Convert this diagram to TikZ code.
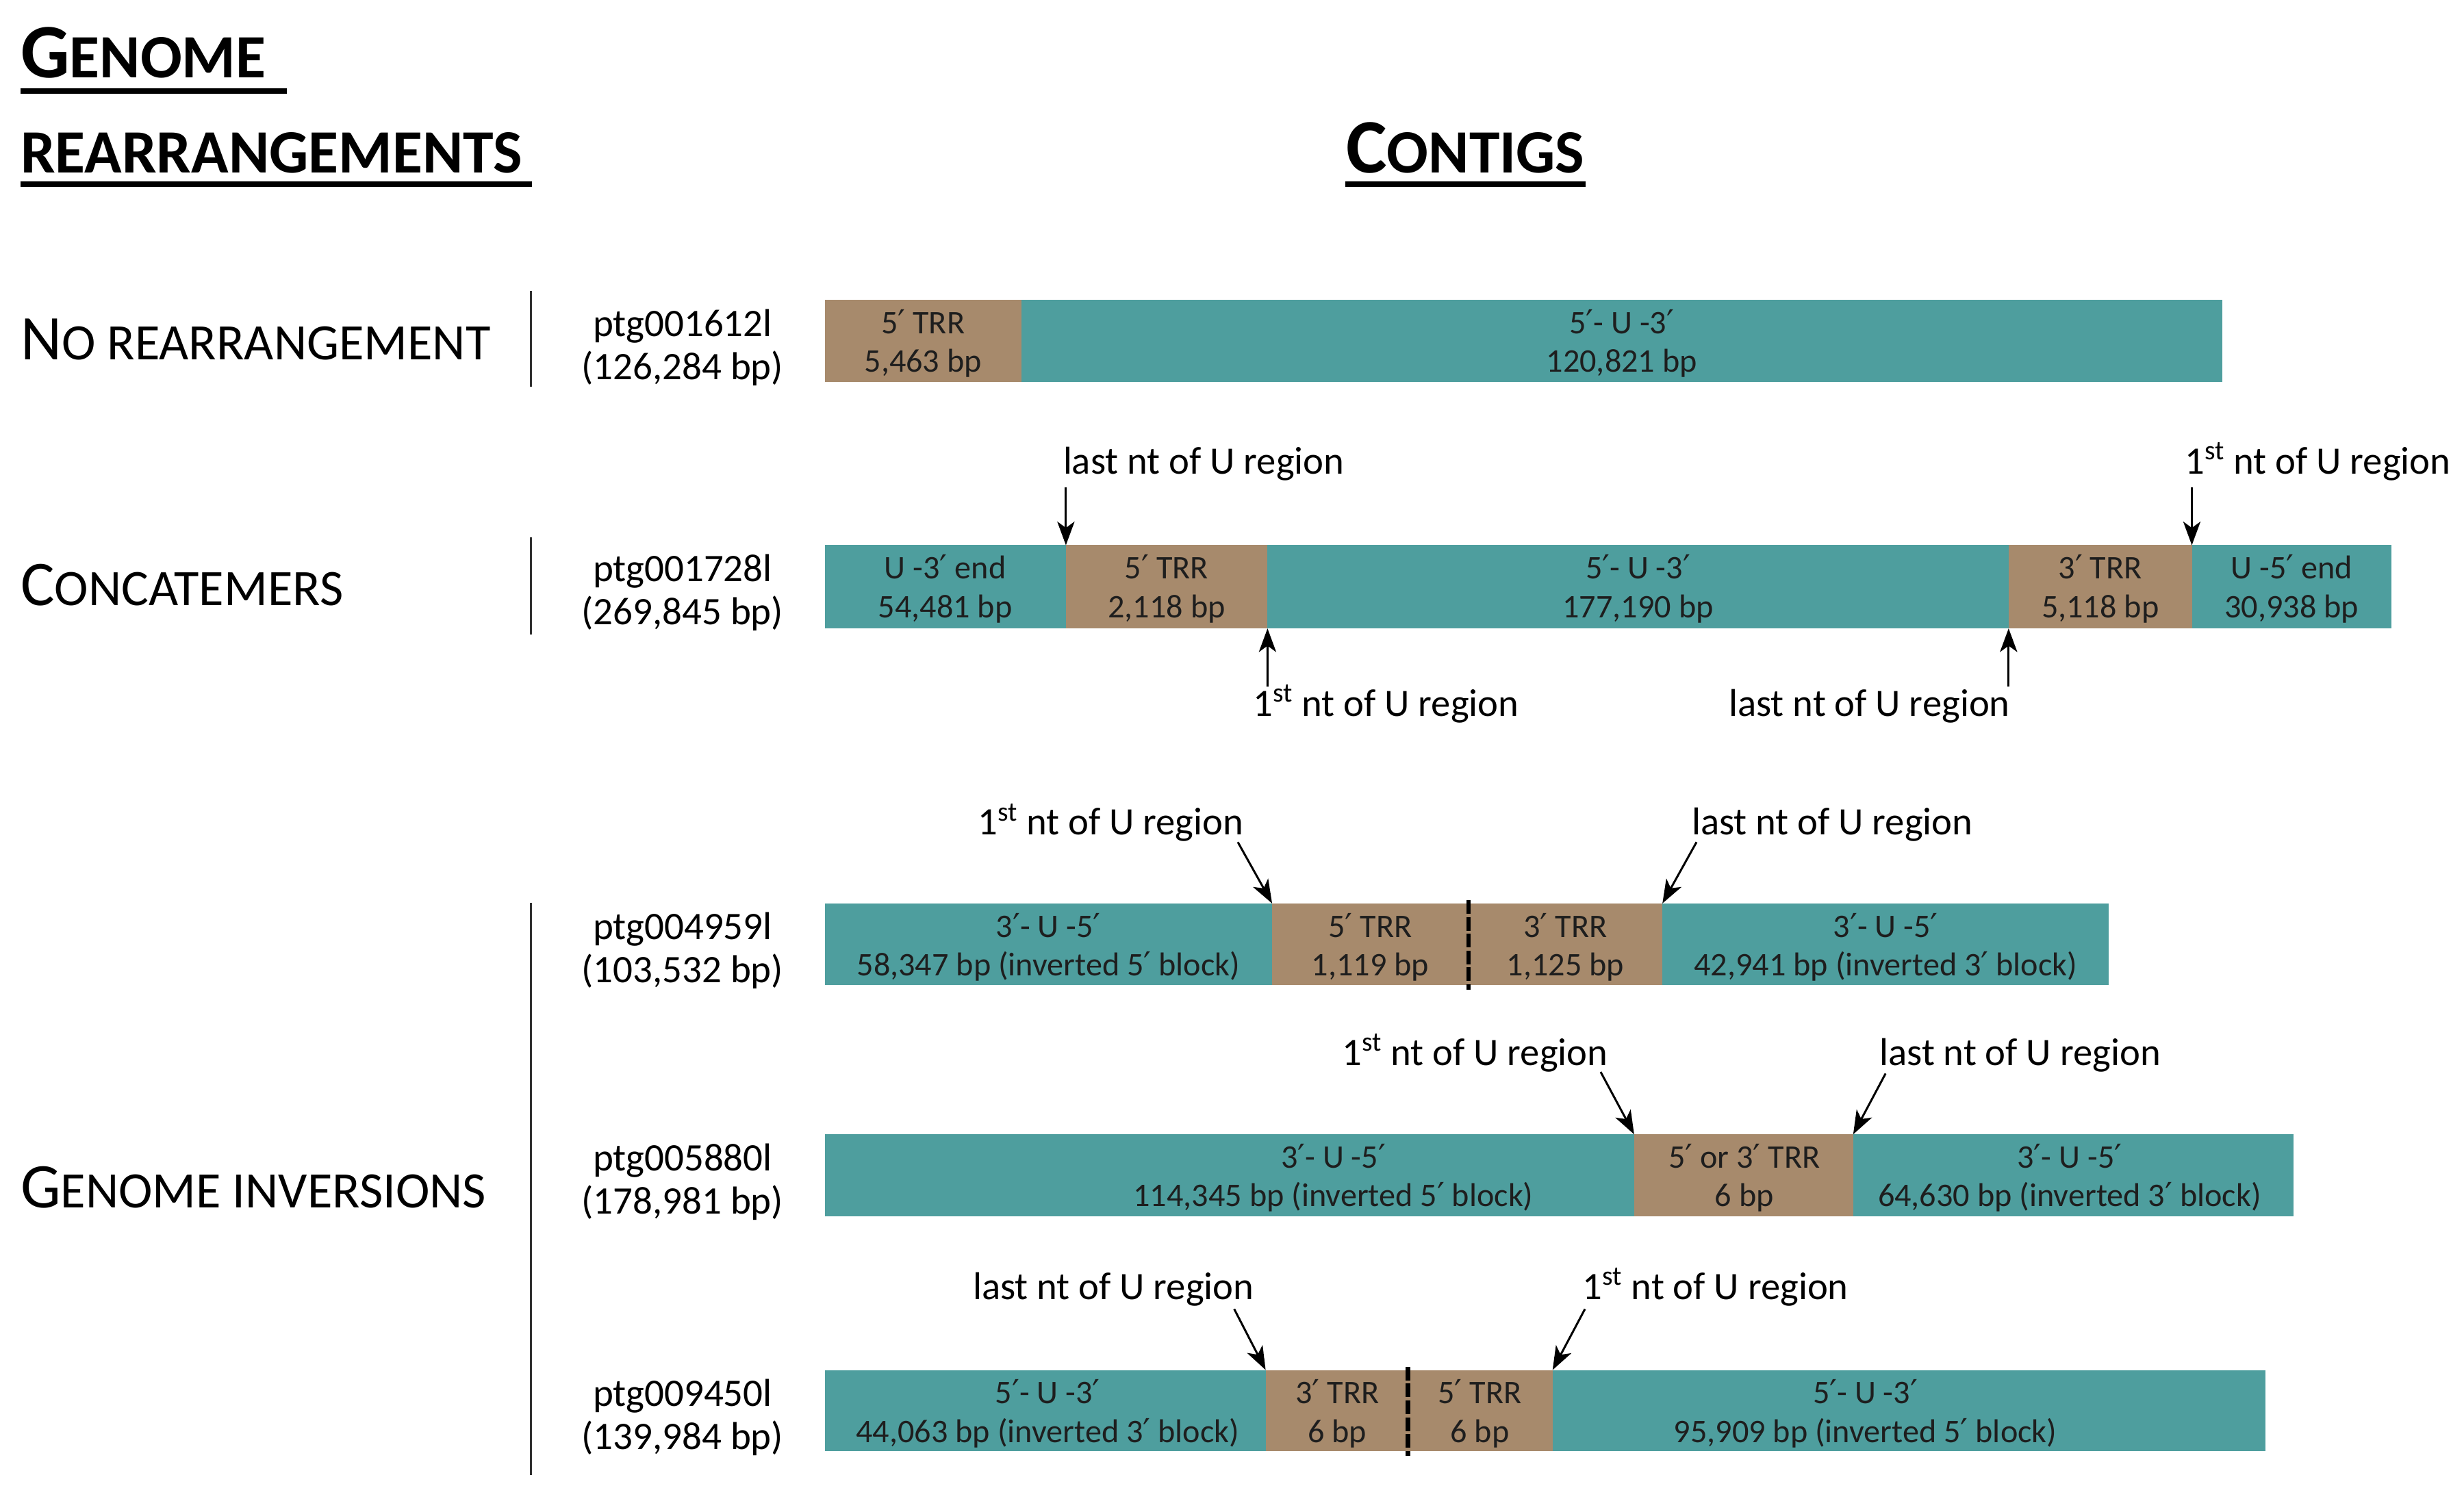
\documentclass[tikz,border=0pt]{standalone}
\usepackage{fontspec}
\setmainfont{Carlito}
\newfontfamily\primefont{DejaVu Sans}[Scale=1.0]
\usetikzlibrary{arrows.meta,fit}
\definecolor{tealc}{HTML}{4E9E9E}
\definecolor{brownc}{HTML}{A78A6C}
\definecolor{txtc}{HTML}{1E1E1E}
\definecolor{sepc}{HTML}{303030}
\newcommand\twol[2]{\begin{tabular}[t]{@{}c@{}}#1\\#2\end{tabular}}
\newcommand\bsc[4]{{\fontsize{#1}{#1}\selectfont #3}{\fontsize{#2}{#2}\selectfont #4}}
\newcommand\fst{1\textsuperscript{st}}
\newcommand\prm{{\primefont ′}}
\begin{document}
\begin{tikzpicture}[x=1pt,y=-1pt,
  seg/.style={inner sep=0pt, outer sep=0pt, draw=none, fill=#1},
  bartxt/.style={inner sep=0pt, anchor=base, text=txtc, font=\fontsize{21}{24.5}\selectfont},
  ptg/.style={inner sep=0pt, anchor=base, font=\fontsize{24.8}{27.5}\selectfont},
  lab/.style={inner sep=0pt, anchor=base, font=\fontsize{24.7}{28}\selectfont},
  head/.style={inner sep=0pt, anchor=base west},
  arr/.style={line width=1.3pt, -{Stealth[length=15pt,width=11pt,inset=4pt]}},
  sepline/.style={line width=1.4pt, draw=sepc},
  dashsep/.style={line width=3pt, draw=black, dash pattern=on 8.7pt off 2pt},
  uline/.style={line width=3.5pt, draw=black}
]
\useasboundingbox (0,0) rectangle (1568,954);

% ---------- headings ----------
\node[head] (h1) at (13,49.4) {\bfseries\bsc{49}{39.2}{G}{ENOME}};
\node[head] (h2) at (13,109.8) {\bfseries\bsc{49}{39.2}{}{REARRANGEMENTS}};
\node[inner sep=0pt, anchor=base] (h3) at (932.5,109.8) {\bfseries\bsc{49}{39.2}{C}{ONTIGS}};
\draw[uline] (13,58) -- (182.6,58);
\draw[uline] (13,117) -- (338.5,117);
\draw[uline] (856,117) -- (1009,117);

% ---------- row labels ----------
\node[head] (l1) at (13,229) {\bsc{40.5}{32.5}{N}{O REARRANGEMENT}};
\node[head] (l2) at (13,385.5) {\bsc{40.5}{32.5}{C}{ONCATEMERS}};
\node[head] (l3) at (13,768.6) {\bsc{40.5}{32.5}{G}{ENOME INVERSIONS}};

\draw[sepline] (337.7,185) -- (337.7,246.3);
\draw[sepline] (337.7,342) -- (337.7,404);
\draw[sepline] (337.7,574.6) -- (337.7,939);

% ---------- contig names ----------
\node[ptg] (p1) at (434.3,214) {\twol{ptg001612l}{(126,284 bp)}};
\node[ptg] (p2) at (434.3,370) {\twol{ptg001728l}{(269,845 bp)}};
\node[ptg] (p3) at (434.3,598) {\twol{ptg004959l}{(103,532 bp)}};
\node[ptg] (p4) at (434.3,745) {\twol{ptg005880l}{(178,981 bp)}};
\node[ptg] (p5) at (434.3,895) {\twol{ptg009450l}{(139,984 bp)}};

% ---------- row 1 ----------
\node[seg=brownc, fit={(524.8,191) (649.9,243)}] (s1a) {};
\node[seg=tealc,  fit={(649.9,191) (1414.3,243)}] (s1b) {};
\node[bartxt] (x1a) at (587.4,212.5) {\twol{5\prm{} TRR}{5,463 bp}};
\node[bartxt] (x1b) at (1032,212.5) {\twol{5\prm- U -3\prm}{120,821 bp}};

% ---------- row 2 ----------
\node[seg=tealc,  fit={(524.8,347) (678.3,400)}] (s2a) {};
\node[seg=brownc, fit={(678.3,347) (806.6,400)}] (s2b) {};
\node[seg=tealc,  fit={(806.6,347) (1278.2,400)}] (s2c) {};
\node[seg=brownc, fit={(1278.2,347) (1394.8,400)}] (s2d) {};
\node[seg=tealc,  fit={(1394.8,347) (1521.8,400)}] (s2e) {};
\node[bartxt] (x2a) at (601.5,368.5) {\twol{U -3\prm{} end}{54,481 bp}};
\node[bartxt] (x2b) at (742.4,368.5) {\twol{5\prm{} TRR}{2,118 bp}};
\node[bartxt] (x2c) at (1042.4,368.5) {\twol{5\prm- U -3\prm}{177,190 bp}};
\node[bartxt] (x2d) at (1336.5,368.5) {\twol{3\prm{} TRR}{5,118 bp}};
\node[bartxt] (x2e) at (1458.3,368.5) {\twol{U -5\prm{} end}{30,938 bp}};

\node[lab] (a2a) at (766,301.6) {last nt of U region};
\node[lab] (a2b) at (882,456) {\fst{} nt of U region};
\node[lab] (a2c) at (1189.6,456) {last nt of U region};
\node[lab] (a2d) at (1475,301.6) {\fst{} nt of U region};
\coordinate (t2a) at (678.3,310.4);
\coordinate (t2b) at (806.6,437);
\coordinate (t2c) at (1278.2,437);
\coordinate (t2d) at (1394.8,310.4);
\draw[arr] (t2a) -- (s2b.north west);
\draw[arr] (t2b) -- (s2b.south east);
\draw[arr] (t2c) -- (s2d.south west);
\draw[arr] (t2d) -- (s2d.north east);

% ---------- row 3 ----------
\node[seg=tealc,  fit={(524.8,575) (809.5,627)}] (s3a) {};
\node[seg=brownc, fit={(809.5,575) (934.5,627)}] (s3b) {};
\node[seg=brownc, fit={(934.5,575) (1057.9,627)}] (s3c) {};
\node[seg=tealc,  fit={(1057.9,575) (1342,627)}] (s3d) {};
\draw[dashsep] ([yshift=2pt]s3b.north east) -- ([yshift=-3pt]s3b.south east);
\node[bartxt] (x3a) at (667.2,596.5) {\twol{3\prm- U -5\prm}{58,347 bp (inverted 5\prm{} block)}};
\node[bartxt] (x3b) at (872,596.5) {\twol{5\prm{} TRR}{1,119 bp}};
\node[bartxt] (x3c) at (996.2,596.5) {\twol{3\prm{} TRR}{1,125 bp}};
\node[bartxt] (x3d) at (1200,596.5) {\twol{3\prm- U -5\prm}{42,941 bp (inverted 3\prm{} block)}};

\node[lab] (a3a) at (706.8,531.5) {\fst{} nt of U region};
\node[lab] (a3b) at (1166,531.5) {last nt of U region};
\coordinate (t3a) at (787.7,536);
\coordinate (t3b) at (1079.6,536);
\draw[arr] (t3a) -- (s3b.north west);
\draw[arr] (t3b) -- (s3c.north east);

% ---------- row 4 ----------
\node[seg=tealc,  fit={(524.8,722) (1039.9,774)}] (s4a) {};
\node[seg=brownc, fit={(1039.9,722) (1179.3,774)}] (s4b) {};
\node[seg=tealc,  fit={(1179.3,722) (1459.3,774)}] (s4c) {};
\node[bartxt] (x4a) at (848.5,743.5) {\twol{3\prm- U -5\prm}{114,345 bp (inverted 5\prm{} block)}};
\node[bartxt] (x4b) at (1110,743.5) {\twol{5\prm{} or 3\prm{} TRR}{6 bp}};
\node[bartxt] (x4c) at (1317,743.5) {\twol{3\prm- U -5\prm}{64,630 bp (inverted 3\prm{} block)}};

\node[lab] (a4a) at (938.6,678) {\fst{} nt of U region};
\node[lab] (a4b) at (1285.5,678) {last nt of U region};
\coordinate (t4a) at (1018.6,682.3);
\coordinate (t4b) at (1199.9,683.3);
\draw[arr] (t4a) -- (s4b.north west);
\draw[arr] (t4b) -- (s4b.north east);

% ---------- row 5 ----------
\node[seg=tealc,  fit={(524.8,872) (805.4,923.5)}] (s5a) {};
\node[seg=brownc, fit={(805.4,872) (896.1,923.5)}] (s5b) {};
\node[seg=brownc, fit={(896.1,872) (988,923.5)}] (s5c) {};
\node[seg=tealc,  fit={(988,872) (1441.7,923.5)}] (s5d) {};
\draw[dashsep] ([yshift=2pt]s5b.north east) -- ([yshift=-3pt]s5b.south east);
\node[bartxt] (x5a) at (666.7,893.5) {\twol{5\prm- U -3\prm}{44,063 bp (inverted 3\prm{} block)}};
\node[bartxt] (x5b) at (851,893.5) {\twol{3\prm{} TRR}{6 bp}};
\node[bartxt] (x5c) at (941.7,893.5) {\twol{5\prm{} TRR}{6 bp}};
\node[bartxt] (x5d) at (1187,893.5) {\twol{5\prm- U -3\prm}{95,909 bp (inverted 5\prm{} block)}};

\node[lab] (a5a) at (708.5,826.9) {last nt of U region};
\node[lab] (a5b) at (1091.7,826.9) {\fst{} nt of U region};
\coordinate (t5a) at (785.4,833.2);
\coordinate (t5b) at (1008.6,833.2);
\draw[arr] (t5a) -- (s5b.north west);
\draw[arr] (t5b) -- (s5c.north east);
\end{tikzpicture}
\end{document}
